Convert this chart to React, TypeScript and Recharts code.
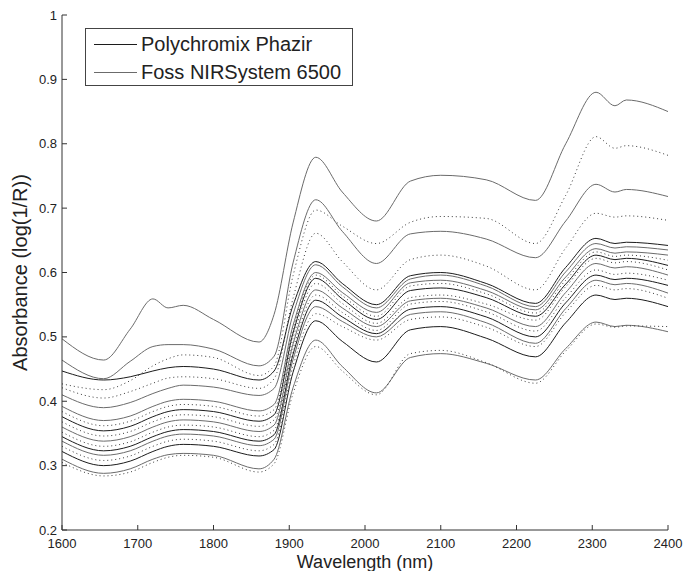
import { Label, Line, LineChart, XAxis, YAxis } from "recharts";

const WAVELENGTHS = [1600, 1655, 1690, 1720, 1740, 1760, 1800, 1860, 1880, 1905, 1935, 1970, 2015, 2060, 2100, 2160, 2225, 2265, 2305, 2330, 2345, 2400];

const X_TICKS = [1600, 1700, 1800, 1900, 2000, 2100, 2200, 2300, 2400];
const Y_TICKS = [0.2, 0.3, 0.4, 0.5, 0.6, 0.7, 0.8, 0.9, 1];

// absorbance values, top to bottom
const T1 = [0.497, 0.464, 0.512, 0.559, 0.545, 0.549, 0.527, 0.492, 0.535, 0.677, 0.779, 0.725, 0.68, 0.742, 0.751, 0.744, 0.712, 0.8, 0.88, 0.859, 0.868, 0.85];
const D1 = [0.427, 0.418, 0.432, 0.455, 0.466, 0.472, 0.468, 0.44, 0.455, 0.595, 0.697, 0.672, 0.645, 0.678, 0.687, 0.684, 0.645, 0.72, 0.811, 0.793, 0.797, 0.782];
const T2 = [0.464, 0.435, 0.462, 0.485, 0.488, 0.488, 0.481, 0.455, 0.47, 0.615, 0.713, 0.664, 0.614, 0.66, 0.664, 0.652, 0.623, 0.68, 0.737, 0.725, 0.729, 0.718];
const D2 = [0.421, 0.405, 0.415, 0.428, 0.436, 0.438, 0.435, 0.42, 0.435, 0.56, 0.661, 0.617, 0.573, 0.62, 0.627, 0.61, 0.573, 0.638, 0.692, 0.686, 0.688, 0.681];
const T3 = [0.447, 0.433, 0.438, 0.447, 0.452, 0.454, 0.45, 0.433, 0.447, 0.549, 0.617, 0.583, 0.55, 0.595, 0.6, 0.583, 0.552, 0.608, 0.653, 0.645, 0.647, 0.642];
const T4 = [0.41, 0.39, 0.398, 0.412, 0.42, 0.425, 0.422, 0.409, 0.42, 0.535, 0.612, 0.578, 0.545, 0.59, 0.596, 0.579, 0.547, 0.601, 0.645, 0.638, 0.64, 0.635];
const C1 = [0.392, 0.37, 0.377, 0.392, 0.4, 0.403, 0.4, 0.385, 0.395, 0.518, 0.6, 0.569, 0.538, 0.584, 0.588, 0.572, 0.542, 0.593, 0.637, 0.63, 0.632, 0.627];
const C2 = [0.384, 0.362, 0.369, 0.384, 0.392, 0.395, 0.392, 0.377, 0.387, 0.512, 0.596, 0.564, 0.532, 0.579, 0.583, 0.567, 0.537, 0.588, 0.632, 0.625, 0.627, 0.619];
const C3 = [0.376, 0.354, 0.361, 0.376, 0.384, 0.387, 0.384, 0.369, 0.379, 0.506, 0.591, 0.559, 0.527, 0.572, 0.576, 0.561, 0.532, 0.582, 0.627, 0.62, 0.622, 0.611];
const C4 = [0.368, 0.346, 0.353, 0.368, 0.376, 0.379, 0.376, 0.361, 0.371, 0.498, 0.583, 0.552, 0.521, 0.561, 0.565, 0.551, 0.526, 0.578, 0.622, 0.615, 0.617, 0.604];
const C5 = [0.36, 0.338, 0.345, 0.36, 0.368, 0.371, 0.368, 0.353, 0.363, 0.489, 0.573, 0.545, 0.516, 0.556, 0.56, 0.545, 0.516, 0.569, 0.614, 0.607, 0.609, 0.596];
const C6 = [0.352, 0.33, 0.337, 0.352, 0.36, 0.363, 0.36, 0.345, 0.355, 0.481, 0.565, 0.538, 0.51, 0.551, 0.555, 0.539, 0.509, 0.561, 0.604, 0.597, 0.599, 0.588];
const C7 = [0.345, 0.323, 0.33, 0.345, 0.353, 0.356, 0.353, 0.338, 0.348, 0.473, 0.557, 0.531, 0.505, 0.543, 0.547, 0.531, 0.5, 0.553, 0.596, 0.589, 0.591, 0.58];
const C8 = [0.338, 0.316, 0.323, 0.338, 0.346, 0.349, 0.346, 0.331, 0.341, 0.465, 0.547, 0.524, 0.5, 0.535, 0.539, 0.522, 0.49, 0.544, 0.588, 0.581, 0.583, 0.568];
const C9 = [0.33, 0.308, 0.315, 0.33, 0.338, 0.341, 0.338, 0.323, 0.333, 0.455, 0.536, 0.516, 0.495, 0.527, 0.531, 0.515, 0.485, 0.538, 0.58, 0.573, 0.575, 0.56];
const TL = [0.322, 0.3, 0.307, 0.322, 0.33, 0.333, 0.33, 0.315, 0.325, 0.445, 0.525, 0.493, 0.461, 0.511, 0.516, 0.498, 0.469, 0.522, 0.565, 0.558, 0.56, 0.547];
const TB = [0.31, 0.288, 0.295, 0.31, 0.317, 0.319, 0.316, 0.295, 0.31, 0.421, 0.495, 0.454, 0.413, 0.468, 0.474, 0.459, 0.433, 0.482, 0.523, 0.516, 0.518, 0.508];
const DB = [0.305, 0.284, 0.29, 0.305, 0.313, 0.316, 0.313, 0.29, 0.303, 0.412, 0.485, 0.447, 0.41, 0.474, 0.479, 0.46, 0.428, 0.478, 0.52, 0.515, 0.517, 0.516];

const LEGEND = ["Polychromix Phazir", "Foss NIRSystem 6500"];

const SERIES = [
  { key: "t1", values: T1, kind: "gray" },
  { key: "d1", values: D1, kind: "dot" },
  { key: "t2", values: T2, kind: "gray" },
  { key: "d2", values: D2, kind: "dot" },
  { key: "t3", values: T3, kind: "black" },
  { key: "t4", values: T4, kind: "gray" },
  { key: "c1", values: C1, kind: "gray" },
  { key: "c2", values: C2, kind: "dot" },
  { key: "c3", values: C3, kind: "black" },
  { key: "c4", values: C4, kind: "dot" },
  { key: "c5", values: C5, kind: "gray" },
  { key: "c6", values: C6, kind: "dot" },
  { key: "c7", values: C7, kind: "black" },
  { key: "c8", values: C8, kind: "gray" },
  { key: "c9", values: C9, kind: "dot" },
  { key: "tl", values: TL, kind: "black" },
  { key: "tb", values: TB, kind: "gray" },
  { key: "db", values: DB, kind: "dot" },
];

const LOOK: Record<string, { stroke: string; dash?: string }> = {
  black: { stroke: "#1c1c1c" },
  gray: { stroke: "#6b6b6b" },
  dot: { stroke: "#3a3a3a", dash: "1 3" },
};

const FONT = "'Liberation Sans', Arial, Helvetica, sans-serif";
const TICK_FONT = "'Liberation Sans Narrow', 'Liberation Sans', Arial, sans-serif";
const AXIS = "#333";

export default function App() {
  const rows = WAVELENGTHS.map((wl, i) => {
    const row: Record<string, number> = { wl };
    SERIES.forEach((s) => {
      row[s.key] = s.values[i];
    });
    return row;
  });

  const tick = { fontSize: 13, fill: "#222", fontFamily: TICK_FONT };

  return (
    <div style={{ position: "absolute", left: 0, top: 0, width: 684, height: 571, background: "#fff", fontFamily: FONT, overflow: "hidden" }}>
      <LineChart width={684} height={571} data={rows} margin={{ top: 15, right: 16, bottom: 0, left: 0 }}>
        <XAxis
          dataKey="wl"
          type="number"
          domain={[1600, 2400]}
          ticks={X_TICKS}
          interval={0}
          height={41}
          tickSize={-5}
          tickMargin={14}
          stroke={AXIS}
          tick={tick}
          allowDataOverflow
        >
          <Label value="Wavelength (nm)" position="insideBottom" offset={3} style={{ fontSize: 18, fill: "#222", fontFamily: FONT }} />
        </XAxis>
        <XAxis xAxisId="top" orientation="top" type="number" domain={[1600, 2400]} ticks={X_TICKS} interval={0} height={0} tickSize={-5} tick={false} stroke={AXIS} />
        <YAxis
          type="number"
          domain={[0.2, 1]}
          ticks={Y_TICKS}
          interval={0}
          width={62}
          tickSize={-5}
          tickMargin={10}
          stroke={AXIS}
          tick={tick}
          tickFormatter={(v) => String(v)}
          allowDataOverflow
        >
          <Label
            value="Absorbance (log(1/R))"
            angle={-90}
            position="insideLeft"
            offset={20}
            style={{ fontSize: 20, fill: "#222", textAnchor: "middle", fontFamily: FONT }}
          />
        </YAxis>
        <YAxis yAxisId="right" orientation="right" type="number" domain={[0.2, 1]} ticks={Y_TICKS} interval={0} width={0} tickSize={-5} tick={false} stroke={AXIS} />
        {SERIES.map((s) => (
          <Line
            key={s.key}
            dataKey={s.key}
            type="monotone"
            stroke={LOOK[s.kind].stroke}
            strokeDasharray={LOOK[s.kind].dash}
            strokeWidth={1}
            dot={false}
            activeDot={false}
            isAnimationActive={false}
          />
        ))}
      </LineChart>
      <div
        style={{
          position: "absolute",
          left: 85,
          top: 28,
          width: 268,
          height: 58,
          boxSizing: "border-box",
          border: "1px solid #444",
          background: "#fff",
          paddingTop: 1,
        }}
      >
        {LEGEND.map((name, i) => (
          <div key={name} style={{ display: "flex", alignItems: "center", height: 28, lineHeight: "28px" }}>
            <span style={{ display: "inline-block", marginLeft: 8, width: 43, height: 1, background: i === 0 ? LOOK.black.stroke : LOOK.gray.stroke }} />
            <span style={{ marginLeft: 4, fontSize: 20, color: "#222", whiteSpace: "nowrap" }}>{name}</span>
          </div>
        ))}
      </div>
    </div>
  );
}
